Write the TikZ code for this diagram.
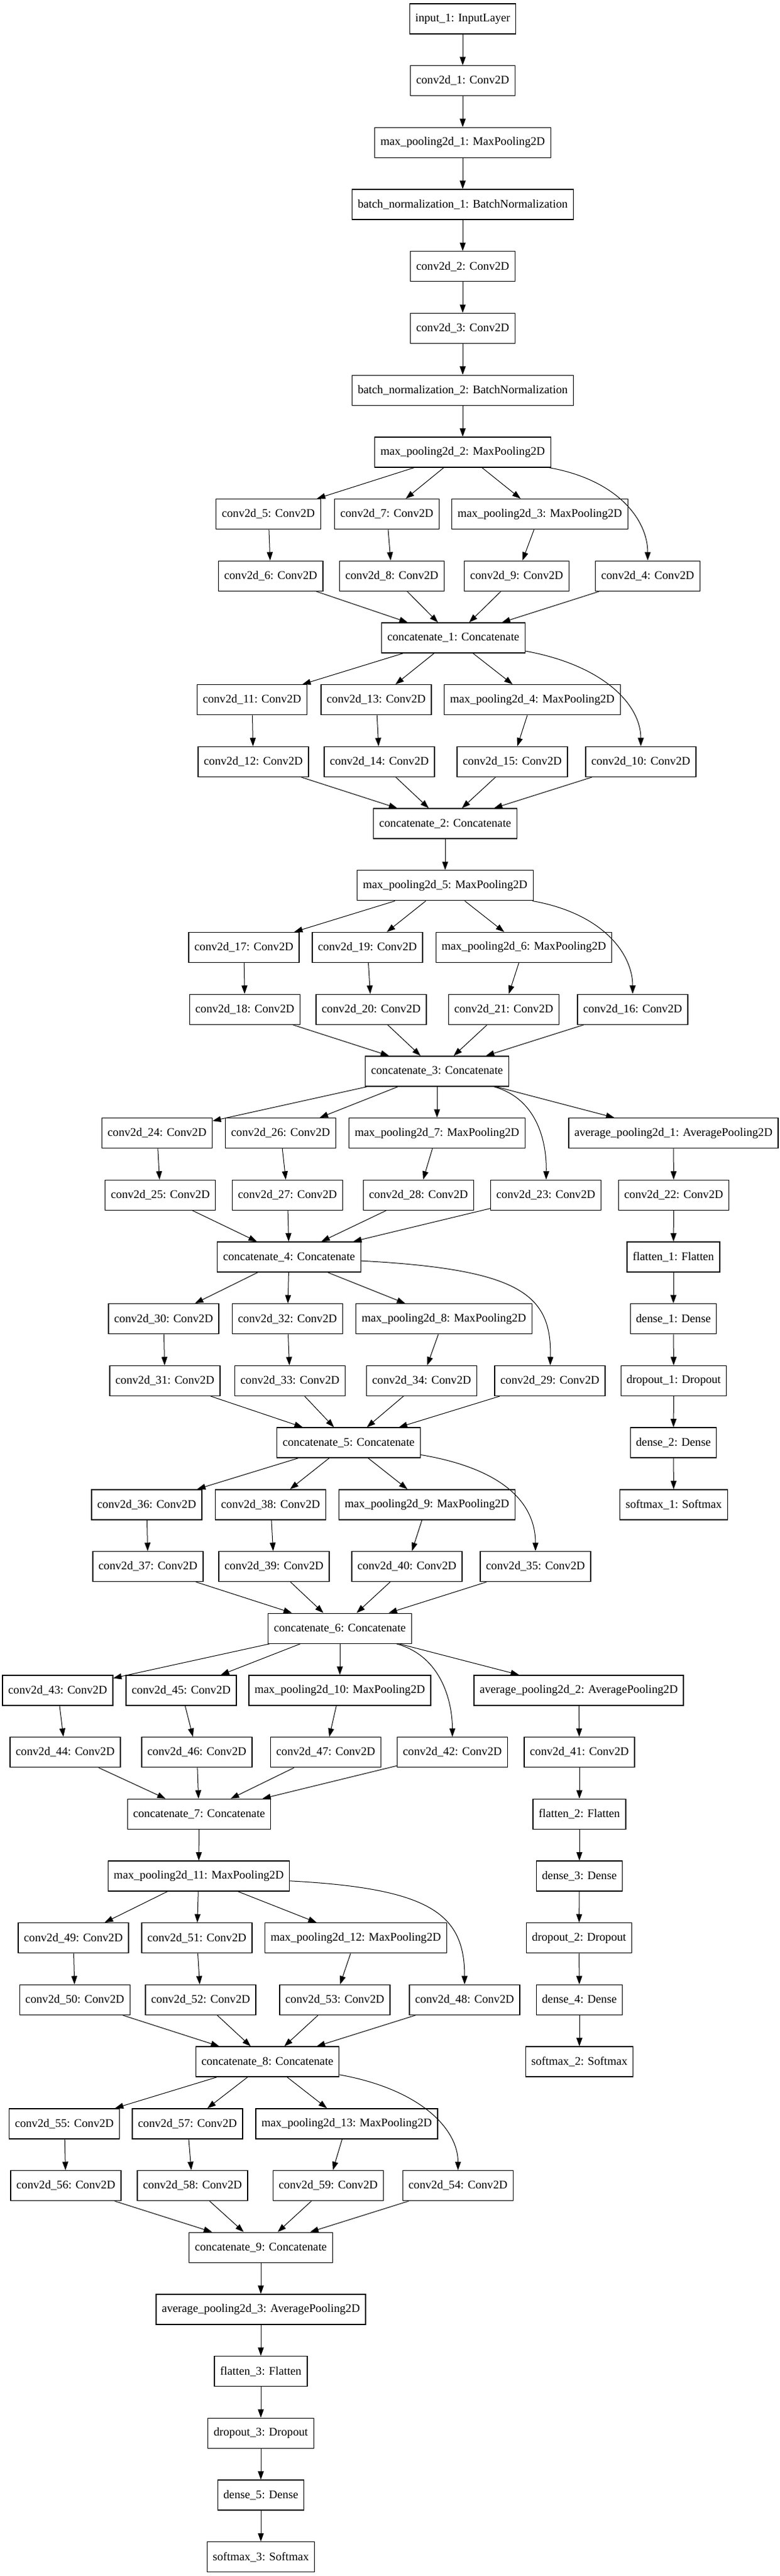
\documentclass[tikz,border=0pt]{standalone}
\usepackage{fontspec}
\setmainfont{Liberation Serif}
\usetikzlibrary{arrows.meta}

\begin{document}
\begin{tikzpicture}[
		x=0.75pt, y=-74.025pt,
		line width=0.75pt,
		>={Triangle[length=10pt,width=7pt]},
		layer/.style={rectangle, draw=black, line width=1pt, fill=white, minimum height=36pt, inner xsep=6.8pt, inner ysep=0pt, font=\fontsize{14}{16}\selectfont},
	]

	\useasboundingbox[fill=white] (0,-0.304) rectangle (1243,41.307);

	%Nodes
	\node[layer] (input1) at (738,0) {input\_1: InputLayer};
	\node[layer] (conv1)  at (738,1) {conv2d\_1: Conv2D};
	\node[layer] (pool1)  at (738,2) {max\_pooling2d\_1: MaxPooling2D};
	\node[layer] (bn1)    at (738,3) {batch\_normalization\_1: BatchNormalization};
	\node[layer] (conv2)  at (738,4) {conv2d\_2: Conv2D};
	\node[layer] (conv3)  at (738,5) {conv2d\_3: Conv2D};
	\node[layer] (bn2)    at (738,6) {batch\_normalization\_2: BatchNormalization};
	\node[layer] (pool2)  at (738,7) {max\_pooling2d\_2: MaxPooling2D};

	\node[layer] (conv5)  at (428,8)   {conv2d\_5: Conv2D};
	\node[layer] (conv7)  at (617,8)   {conv2d\_7: Conv2D};
	\node[layer] (pool3)  at (861,8)   {max\_pooling2d\_3: MaxPooling2D};
	\node[layer] (conv6)  at (431.7,9) {conv2d\_6: Conv2D};
	\node[layer] (conv8)  at (625,9)   {conv2d\_8: Conv2D};
	\node[layer] (conv9)  at (824,9)   {conv2d\_9: Conv2D};
	\node[layer] (conv4)  at (1033,9)  {conv2d\_4: Conv2D};
	\node[layer] (cat1)   at (723,10)  {concatenate\_1: Concatenate};

	\node[layer] (conv11) at (402,11)  {conv2d\_11: Conv2D};
	\node[layer] (conv13) at (600,11)  {conv2d\_13: Conv2D};
	\node[layer] (pool4)  at (849,11)  {max\_pooling2d\_4: MaxPooling2D};
	\node[layer] (conv12) at (404,12)  {conv2d\_12: Conv2D};
	\node[layer] (conv14) at (605,12)  {conv2d\_14: Conv2D};
	\node[layer] (conv15) at (817,12)  {conv2d\_15: Conv2D};
	\node[layer] (conv10) at (1022,12) {conv2d\_10: Conv2D};
	\node[layer] (cat2)   at (710,13)  {concatenate\_2: Concatenate};
	\node[layer] (pool5)  at (710,14)  {max\_pooling2d\_5: MaxPooling2D};

	\node[layer] (conv17) at (389,15)   {conv2d\_17: Conv2D};
	\node[layer] (conv19) at (586,15)   {conv2d\_19: Conv2D};
	\node[layer] (pool6)  at (835.5,15) {max\_pooling2d\_6: MaxPooling2D};
	\node[layer] (conv18) at (390.5,16) {conv2d\_18: Conv2D};
	\node[layer] (conv20) at (592,16)   {conv2d\_20: Conv2D};
	\node[layer] (conv21) at (803.5,16) {conv2d\_21: Conv2D};
	\node[layer] (conv16) at (1009,16)  {conv2d\_16: Conv2D};
	\node[layer] (cat3)   at (697,17)   {concatenate\_3: Concatenate};

	\node[layer] (conv24) at (250.5,18)  {conv2d\_24: Conv2D};
	\node[layer] (conv26) at (447.5,18)  {conv2d\_26: Conv2D};
	\node[layer] (pool7)  at (697,18)    {max\_pooling2d\_7: MaxPooling2D};
	\node[layer] (avg1)   at (1074,18)   {average\_pooling2d\_1: AveragePooling2D};
	\node[layer] (conv25) at (255.7,19)  {conv2d\_25: Conv2D};
	\node[layer] (conv27) at (458.5,19)  {conv2d\_27: Conv2D};
	\node[layer] (conv28) at (667.5,19)  {conv2d\_28: Conv2D};
	\node[layer] (conv23) at (870.5,19)  {conv2d\_23: Conv2D};
	\node[layer] (conv22) at (1074.5,19) {conv2d\_22: Conv2D};
	\node[layer] (cat4)   at (461,20)    {concatenate\_4: Concatenate};
	\node[layer] (flat1)  at (1074,20)   {flatten\_1: Flatten};

	\node[layer] (conv30) at (261,21)    {conv2d\_30: Conv2D};
	\node[layer] (conv32) at (458.5,21)  {conv2d\_32: Conv2D};
	\node[layer] (pool8)  at (708,21)    {max\_pooling2d\_8: MaxPooling2D};
	\node[layer] (dense1) at (1074,21)   {dense\_1: Dense};
	\node[layer] (conv31) at (263,22)    {conv2d\_31: Conv2D};
	\node[layer] (conv33) at (462.5,22)  {conv2d\_33: Conv2D};
	\node[layer] (conv34) at (672.5,22)  {conv2d\_34: Conv2D};
	\node[layer] (conv29) at (877,22)    {conv2d\_29: Conv2D};
	\node[layer] (drop1)  at (1074.5,22) {dropout\_1: Dropout};
	\node[layer] (cat5)   at (556,23)    {concatenate\_5: Concatenate};
	\node[layer] (dense2) at (1074,23)   {dense\_2: Dense};

	\node[layer] (conv36) at (234,24)    {conv2d\_36: Conv2D};
	\node[layer] (conv38) at (431.5,24)  {conv2d\_38: Conv2D};
	\node[layer] (pool9)  at (681,24)    {max\_pooling2d\_9: MaxPooling2D};
	\node[layer] (soft1)  at (1074.5,24) {softmax\_1: Softmax};
	\node[layer] (conv37) at (236,25)    {conv2d\_37: Conv2D};
	\node[layer] (conv39) at (437,25)    {conv2d\_39: Conv2D};
	\node[layer] (conv40) at (649,25)    {conv2d\_40: Conv2D};
	\node[layer] (conv35) at (854,25)    {conv2d\_35: Conv2D};
	\node[layer] (cat6)   at (542,26)    {concatenate\_6: Concatenate};

	\node[layer] (conv43) at (92,27)     {conv2d\_43: Conv2D};
	\node[layer] (conv45) at (289,27)    {conv2d\_45: Conv2D};
	\node[layer] (pool10) at (542,27)    {max\_pooling2d\_10: MaxPooling2D};
	\node[layer] (avg2)   at (923,27)    {average\_pooling2d\_2: AveragePooling2D};
	\node[layer] (conv44) at (104,28)    {conv2d\_44: Conv2D};
	\node[layer] (conv46) at (314,28)    {conv2d\_46: Conv2D};
	\node[layer] (conv47) at (519.5,28)  {conv2d\_47: Conv2D};
	\node[layer] (conv42) at (721.5,28)  {conv2d\_42: Conv2D};
	\node[layer] (conv41) at (924,28)    {conv2d\_41: Conv2D};
	\node[layer] (cat7)   at (317.5,29)  {concatenate\_7: Concatenate};
	\node[layer] (flat2)  at (924,29)    {flatten\_2: Flatten};
	\node[layer] (pool11) at (317,30)    {max\_pooling2d\_11: MaxPooling2D};
	\node[layer] (dense3) at (924,30)    {dense\_3: Dense};

	\node[layer] (conv49) at (117,31)    {conv2d\_49: Conv2D};
	\node[layer] (conv51) at (314,31)    {conv2d\_51: Conv2D};
	\node[layer] (pool12) at (567.5,31)  {max\_pooling2d\_12: MaxPooling2D};
	\node[layer] (drop2)  at (923.5,31)  {dropout\_2: Dropout};
	\node[layer] (conv50) at (119.3,32)  {conv2d\_50: Conv2D};
	\node[layer] (conv52) at (320,32)    {conv2d\_52: Conv2D};
	\node[layer] (conv53) at (534,32)    {conv2d\_53: Conv2D};
	\node[layer] (conv48) at (741,32)    {conv2d\_48: Conv2D};
	\node[layer] (dense4) at (924,32)    {dense\_4: Dense};
	\node[layer] (cat8)   at (426.5,33)  {concatenate\_8: Concatenate};
	\node[layer] (soft2)  at (924,33)    {softmax\_2: Softmax};

	\node[layer] (conv55) at (102.6,34)  {conv2d\_55: Conv2D};
	\node[layer] (conv57) at (299,34)    {conv2d\_57: Conv2D};
	\node[layer] (pool13) at (553,34)    {max\_pooling2d\_13: MaxPooling2D};
	\node[layer] (conv56) at (105,35)    {conv2d\_56: Conv2D};
	\node[layer] (conv58) at (307,35)    {conv2d\_58: Conv2D};
	\node[layer] (conv59) at (523.5,35)  {conv2d\_59: Conv2D};
	\node[layer] (conv54) at (730.5,35)  {conv2d\_54: Conv2D};
	\node[layer] (cat9)   at (416,36)    {concatenate\_9: Concatenate};
	\node[layer] (avg3)   at (416,37)    {average\_pooling2d\_3: AveragePooling2D};
	\node[layer] (flat3)  at (416,38)    {flatten\_3: Flatten};
	\node[layer] (drop3)  at (416,39)    {dropout\_3: Dropout};
	\node[layer] (dense5) at (416,40)    {dense\_5: Dense};
	\node[layer] (soft3)  at (416,41)    {softmax\_3: Softmax};

	%Lines
	\draw[->] (input1) -- (conv1);
	\draw[->] (conv1) -- (pool1);
	\draw[->] (pool1) -- (bn1);
	\draw[->] (bn1) -- (conv2);
	\draw[->] (conv2) -- (conv3);
	\draw[->] (conv3) -- (bn2);
	\draw[->] (bn2) -- (pool2);

	\draw[->] (pool2) -- (conv5);
	\draw[->] (pool2) -- (conv7);
	\draw[->] (pool2) -- (pool3);
	\draw[->] (pool2) .. controls (986,7.45) and (1033,8.1) .. (conv4);
	\draw[->] (conv5) -- (conv6);
	\draw[->] (conv7) -- (conv8);
	\draw[->] (pool3) -- (conv9);
	\draw[->] (conv6) -- (cat1);
	\draw[->] (conv8) -- (cat1);
	\draw[->] (conv9) -- (cat1);
	\draw[->] (conv4) -- (cat1);

	\draw[->] (cat1) -- (conv11);
	\draw[->] (cat1) -- (conv13);
	\draw[->] (cat1) -- (pool4);
	\draw[->] (cat1) .. controls (966,10.45) and (1022,11.1) .. (conv10);
	\draw[->] (conv11) -- (conv12);
	\draw[->] (conv13) -- (conv14);
	\draw[->] (pool4) -- (conv15);
	\draw[->] (conv12) -- (cat2);
	\draw[->] (conv14) -- (cat2);
	\draw[->] (conv15) -- (cat2);
	\draw[->] (conv10) -- (cat2);
	\draw[->] (cat2) -- (pool5);

	\draw[->] (pool5) -- (conv17);
	\draw[->] (pool5) -- (conv19);
	\draw[->] (pool5) -- (pool6);
	\draw[->] (pool5) .. controls (961,14.45) and (1009,15.1) .. (conv16);
	\draw[->] (conv17) -- (conv18);
	\draw[->] (conv19) -- (conv20);
	\draw[->] (pool6) -- (conv21);
	\draw[->] (conv18) -- (cat3);
	\draw[->] (conv20) -- (cat3);
	\draw[->] (conv21) -- (cat3);
	\draw[->] (conv16) -- (cat3);

	\draw[->] (cat3) -- (conv24);
	\draw[->] (cat3) -- (conv26);
	\draw[->] (cat3) -- (pool7);
	\draw[->] (cat3) .. controls (860,17.45) and (872,18.2) .. (conv23);
	\draw[->] (cat3) -- (avg1);
	\draw[->] (conv24) -- (conv25);
	\draw[->] (conv26) -- (conv27);
	\draw[->] (pool7) -- (conv28);
	\draw[->] (conv25) -- (cat4);
	\draw[->] (conv27) -- (cat4);
	\draw[->] (conv28) -- (cat4);
	\draw[->] (conv23) -- (cat4);
	\draw[->] (avg1) -- (conv22);
	\draw[->] (conv22) -- (flat1);
	\draw[->] (flat1) -- (dense1);
	\draw[->] (dense1) -- (drop1);
	\draw[->] (drop1) -- (dense2);
	\draw[->] (dense2) -- (soft1);

	\draw[->] (cat4) -- (conv30);
	\draw[->] (cat4) -- (conv32);
	\draw[->] (cat4) -- (pool8);
	\draw[->] (cat4) .. controls (830,20.2) and (880,20.6) .. (conv29);
	\draw[->] (conv30) -- (conv31);
	\draw[->] (conv32) -- (conv33);
	\draw[->] (pool8) -- (conv34);
	\draw[->] (conv31) -- (cat5);
	\draw[->] (conv33) -- (cat5);
	\draw[->] (conv34) -- (cat5);
	\draw[->] (conv29) -- (cat5);

	\draw[->] (cat5) -- (conv36);
	\draw[->] (cat5) -- (conv38);
	\draw[->] (cat5) -- (pool9);
	\draw[->] (cat5) .. controls (820,23.45) and (854,24.1) .. (conv35);
	\draw[->] (conv36) -- (conv37);
	\draw[->] (conv38) -- (conv39);
	\draw[->] (pool9) -- (conv40);
	\draw[->] (conv37) -- (cat6);
	\draw[->] (conv39) -- (cat6);
	\draw[->] (conv40) -- (cat6);
	\draw[->] (conv35) -- (cat6);

	\draw[->] (cat6) -- (conv43);
	\draw[->] (cat6) -- (conv45);
	\draw[->] (cat6) -- (pool10);
	\draw[->] (cat6) .. controls (705,26.45) and (721.5,27.2) .. (conv42);
	\draw[->] (cat6) -- (avg2);
	\draw[->] (conv43) -- (conv44);
	\draw[->] (conv45) -- (conv46);
	\draw[->] (pool10) -- (conv47);
	\draw[->] (conv44) -- (cat7);
	\draw[->] (conv46) -- (cat7);
	\draw[->] (conv47) -- (cat7);
	\draw[->] (conv42) -- (cat7);
	\draw[->] (avg2) -- (conv41);
	\draw[->] (conv41) -- (flat2);
	\draw[->] (flat2) -- (dense3);
	\draw[->] (dense3) -- (drop2);
	\draw[->] (drop2) -- (dense4);
	\draw[->] (dense4) -- (soft2);
	\draw[->] (cat7) -- (pool11);

	\draw[->] (pool11) -- (conv49);
	\draw[->] (pool11) -- (conv51);
	\draw[->] (pool11) -- (pool12);
	\draw[->] (pool11) .. controls (685,30.2) and (741,30.6) .. (conv48);
	\draw[->] (conv49) -- (conv50);
	\draw[->] (conv51) -- (conv52);
	\draw[->] (pool12) -- (conv53);
	\draw[->] (conv50) -- (cat8);
	\draw[->] (conv52) -- (cat8);
	\draw[->] (conv53) -- (cat8);
	\draw[->] (conv48) -- (cat8);

	\draw[->] (cat8) -- (conv55);
	\draw[->] (cat8) -- (conv57);
	\draw[->] (cat8) -- (pool13);
	\draw[->] (cat8) .. controls (673,33.45) and (730.5,34.1) .. (conv54);
	\draw[->] (conv55) -- (conv56);
	\draw[->] (conv57) -- (conv58);
	\draw[->] (pool13) -- (conv59);
	\draw[->] (conv56) -- (cat9);
	\draw[->] (conv58) -- (cat9);
	\draw[->] (conv59) -- (cat9);
	\draw[->] (conv54) -- (cat9);

	\draw[->] (cat9) -- (avg3);
	\draw[->] (avg3) -- (flat3);
	\draw[->] (flat3) -- (drop3);
	\draw[->] (drop3) -- (dense5);
	\draw[->] (dense5) -- (soft3);

\end{tikzpicture}
\end{document}
